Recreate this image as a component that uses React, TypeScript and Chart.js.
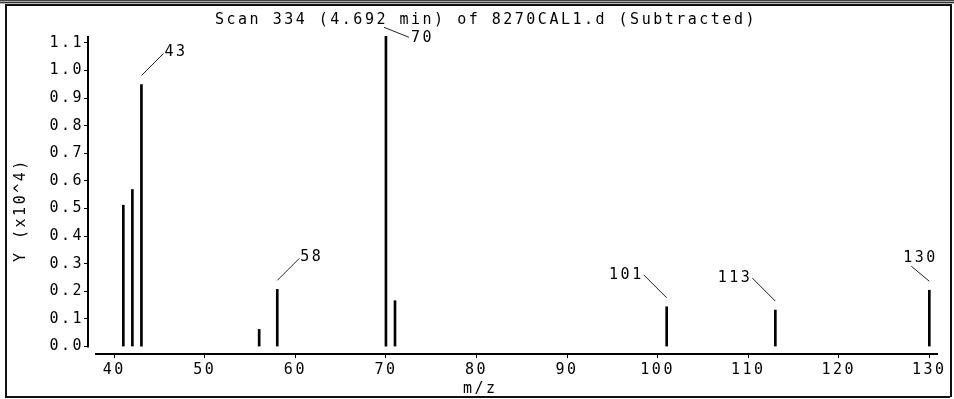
import React, { useEffect, useRef } from 'react';
import { Chart, registerables } from 'chart.js';

Chart.register(...registerables);

// ---------- data ----------
const TITLE = 'Scan 334 (4.692 min) of 8270CAL1.d (Subtracted)';
const X_TITLE = 'm/z';
const Y_TITLE = 'Y (x10^4)';
const mzValues = [41, 42, 43, 56, 58, 70, 71, 101, 113, 130];
const abundance = [0.512, 0.569, 0.949, 0.062, 0.207, 1.124, 0.166, 0.144, 0.132, 0.204];
const labeledPeaks = [43, 58, 70, 101, 113, 130];
const xTickValues = [40, 50, 60, 70, 80, 90, 100, 110, 120, 130];
const yTickValues = [0, 0.1, 0.2, 0.3, 0.4, 0.5, 0.6, 0.7, 0.8, 0.9, 1.0, 1.1];

// ---------- style ----------
const FONT_FAMILY = '"DejaVu Sans Mono", "Liberation Mono", monospace';
const FONT_SIZE = 15;
const LETTER_SPACING = '2.5px';
const FONT = `${FONT_SIZE}px ${FONT_FAMILY}`;

// label placement style per peak (offsets relative to the bar top)
const labelStyle: Record<number, string> = {
  43: 'upRight',
  58: 'upRight',
  70: 'downRight',
  101: 'upLeft',
  113: 'upLeft',
  130: 'upCenter',
};

const decorPlugin = {
  id: 'decor',
  beforeUpdate(chart: any) {
    chart.ctx.letterSpacing = LETTER_SPACING;
  },
  beforeDraw(chart: any) {
    chart.ctx.letterSpacing = LETTER_SPACING;
  },
  afterDraw(chart: any) {
    const { ctx, chartArea, width, height } = chart;
    const xs = chart.scales.x;
    const ys = chart.scales.y;
    ctx.save();
    ctx.letterSpacing = LETTER_SPACING;

    // window frame
    ctx.fillStyle = '#444';
    ctx.fillRect(0, 0, width, 1);
    ctx.fillStyle = '#aaa';
    ctx.fillRect(0, 1, width, 1);
    ctx.fillStyle = '#333';
    ctx.fillRect(0, 2, width, 1);
    ctx.fillStyle = '#bbb';
    ctx.fillRect(0, 3, width, 1);
    ctx.fillStyle = '#111';
    ctx.fillRect(5, 4, width - 9, 2);
    ctx.fillRect(5, 4, 2, height - 6);
    ctx.fillRect(5, height - 3, width - 9, 2);
    ctx.fillRect(width - 4, 4, 2, height - 6);

    // axis lines
    ctx.strokeStyle = '#000';
    ctx.lineWidth = 2;
    const zeroY = ys.getPixelForValue(0);
    ctx.beginPath();
    ctx.moveTo(chartArea.left, chartArea.top);
    ctx.lineTo(chartArea.left, zeroY + 1);
    ctx.stroke();
    ctx.beginPath();
    ctx.moveTo(chartArea.left + 7, chartArea.bottom);
    ctx.lineTo(chartArea.right, chartArea.bottom);
    ctx.stroke();

    // texts
    ctx.fillStyle = '#000';
    ctx.font = FONT;
    ctx.textBaseline = 'middle';
    ctx.textAlign = 'left';
    ctx.fillText(TITLE, 215, 20);
    ctx.fillText(X_TITLE, 463, 389);

    ctx.save();
    ctx.translate(21, 262);
    ctx.rotate(-Math.PI / 2);
    ctx.fillText(Y_TITLE, 0, 0);
    ctx.restore();

    // peak labels with leader lines
    ctx.lineWidth = 1;
    ctx.strokeStyle = '#222';
    labeledPeaks.forEach((mz) => {
      const i = mzValues.indexOf(mz);
      if (i < 0) return;
      const bx = xs.getPixelForValue(mz);
      const by = ys.getPixelForValue(abundance[i]);
      const style = labelStyle[mz];
      let x0 = bx, y0 = by - 9, x1 = bx, y1 = by, tx = bx, ty = by, align: CanvasTextAlign = 'left';
      if (style === 'upRight') {
        x1 = bx + 22; y1 = by - 31; tx = bx + 23; ty = by - 32; align = 'left';
      } else if (style === 'upLeft') {
        x1 = bx - 23; y1 = by - 32; tx = bx - 23; ty = by - 32; align = 'right';
      } else if (style === 'upCenter') {
        x1 = bx - 18; y1 = by - 24; tx = bx - 26; ty = by - 32; align = 'left';
      } else if (style === 'downRight') {
        x0 = bx - 2; y0 = by - 9; x1 = bx + 23; y1 = by + 1; tx = bx + 25; ty = by + 2; align = 'left';
      }
      ctx.beginPath();
      ctx.moveTo(x0, y0);
      ctx.lineTo(x1, y1);
      ctx.stroke();
      ctx.textAlign = align;
      ctx.fillText(String(mz), tx, ty);
    });

    ctx.restore();
  },
};

export default function App() {
  const canvasRef = useRef<HTMLCanvasElement | null>(null);

  useEffect(() => {
    const canvas = canvasRef.current;
    if (!canvas) return;
    const tickFont = { family: FONT_FAMILY, size: FONT_SIZE };
    const chart = new Chart(canvas, {
      type: 'bar',
      data: {
        datasets: [
          {
            data: mzValues.map((m, i) => ({ x: m, y: abundance[i] })),
            backgroundColor: '#000',
            borderWidth: 0,
            barThickness: 2,
          },
        ],
      },
      options: {
        animation: false,
        responsive: false,
        devicePixelRatio: 1,
        layout: { padding: { top: 36, right: 16, left: 0, bottom: 0 } },
        plugins: {
          legend: { display: false },
          tooltip: { enabled: false },
          title: { display: false },
        },
        scales: {
          x: {
            type: 'linear',
            min: 37.1,
            max: 130.96,
            offset: false,
            afterBuildTicks: (scale: any) => {
              scale.ticks = xTickValues.map((v) => ({ value: v }));
            },
            afterFit: (scale: any) => {
              scale.height = 45;
            },
            ticks: {
              autoSkip: false,
              maxRotation: 0,
              minRotation: 0,
              padding: 3,
              color: '#000',
              font: tickFont,
              callback: (v: any) => String(v),
            },
            grid: {
              display: true,
              offset: false,
              drawOnChartArea: false,
              drawTicks: true,
              tickLength: 4,
              color: '#000',
              lineWidth: 1,
            },
            border: { display: false },
          },
          y: {
            type: 'linear',
            min: -0.027,
            max: 1.125,
            afterBuildTicks: (scale: any) => {
              scale.ticks = yTickValues.map((v) => ({ value: v }));
            },
            afterFit: (scale: any) => {
              scale.width = 88;
            },
            ticks: {
              autoSkip: false,
              padding: 0,
              color: '#000',
              font: tickFont,
              callback: (v: any) => Number(v).toFixed(1),
            },
            grid: {
              display: true,
              drawOnChartArea: false,
              drawTicks: true,
              tickLength: 4,
              color: '#000',
              lineWidth: 1,
            },
            border: { display: false },
          },
        },
      },
      plugins: [decorPlugin],
    } as any);
    return () => chart.destroy();
  }, []);

  return (
    <div style={{ position: 'absolute', left: 0, top: 0, width: 954, height: 399, background: '#fff' }}>
      <canvas ref={canvasRef} width={954} height={399} style={{ display: 'block' }} />
    </div>
  );
}
